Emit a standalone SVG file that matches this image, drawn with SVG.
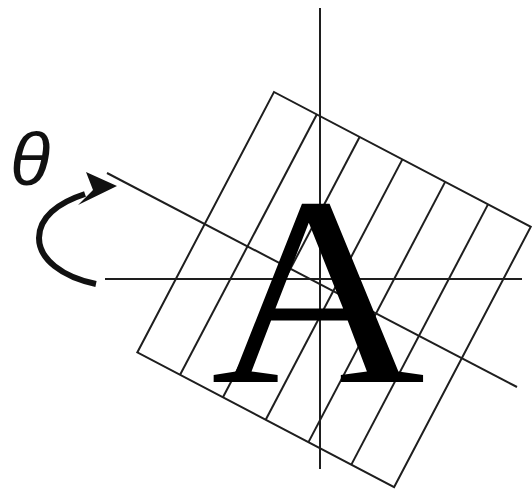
<svg xmlns="http://www.w3.org/2000/svg" width="532" height="490" viewBox="0 0 532 490">
<style>
.ln{stroke:#1e1e1e;stroke-width:2;fill:none}
.thick{stroke:#111;stroke-width:6;fill:none;stroke-linecap:butt}
</style>
<rect width="532" height="490" fill="#fff"/>
<g id="grid" transform="translate(274,92) rotate(27.7)">
  <rect class="ln" x="0" y="0" width="290" height="294"/>
  <line class="ln" x1="48.3" y1="0" x2="48.3" y2="294"/>
  <line class="ln" x1="96.7" y1="0" x2="96.7" y2="294"/>
  <line class="ln" x1="145" y1="0" x2="145" y2="294"/>
  <line class="ln" x1="193.3" y1="0" x2="193.3" y2="294"/>
  <line class="ln" x1="241.7" y1="0" x2="241.7" y2="294"/>
</g>
<g id="axes">
  <line class="ln" x1="320" y1="8" x2="320" y2="469"/>
  <line class="ln" x1="105" y1="279" x2="522" y2="279"/>
  <line class="ln" x1="107" y1="173" x2="517" y2="387"/>
</g>
<g id="letterA">
  <text transform="translate(318,382) scale(1.1,1)" text-anchor="middle" font-family="Liberation Serif, serif" font-size="270" fill="#000">A</text>
</g>
<g id="rotation">
  <path class="thick" d="M96 284 C62 277 39 259 39 238 C39 218 57 203 85 194"/>
  <polygon points="117,186 86,172 93,190 78,205" fill="#111"/>
  <text x="10" y="185" font-family="Liberation Sans, sans-serif" font-style="italic" font-size="74" fill="#111">θ</text>
</g>
</svg>
